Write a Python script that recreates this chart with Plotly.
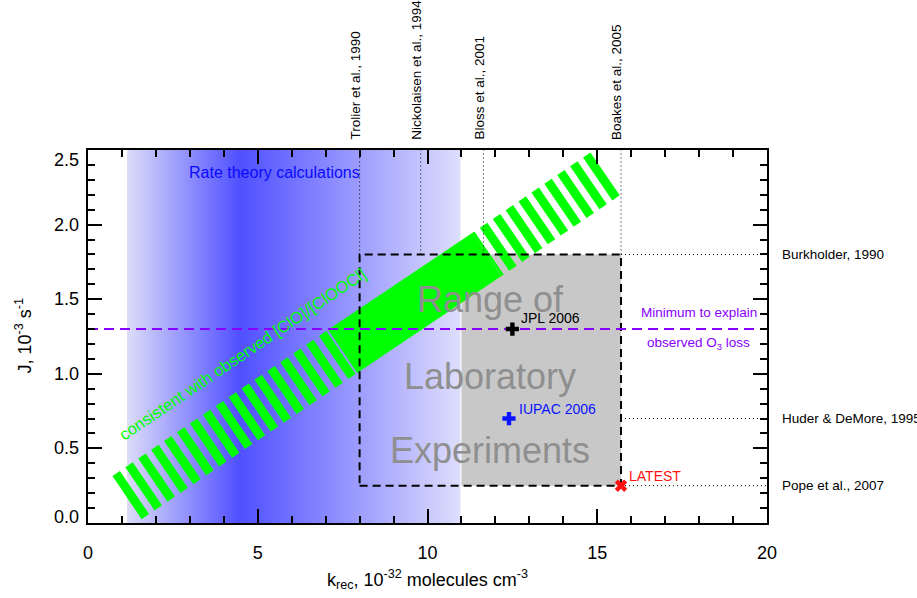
import plotly.graph_objects as go

# ---------------- data ----------------
blue_x_range = [1.15, 10.97]          # rate theory shaded range (k_rec)
blue_peak = 4.47                       # most likely rate-theory value
band_x = [1.15, 7.5, 11.75, 15.23]     # green band: start, solid start, solid end, end
band_y = [0.17, 1.15, 1.80, 2.34]
lab_x = [8.0, 15.7]                    # lab experiments k_rec range
lab_y = [0.25, 1.8]                    # lab experiments J range
gray_x = [11.0, 15.7]
j_min = 1.3                            # minimum J to explain ozone loss
top_refs = ["Trolier et al., 1990", "Nickolaisen et al., 1994", "Bloss et al., 2001", "Boakes et al., 2005"]
top_refs_x = [8.0, 9.8, 11.65, 15.7]
right_refs = ["Burkholder, 1990", "Huder & DeMore, 1995", "Pope et al., 2007"]
right_refs_y = [1.8, 0.7, 0.25]
pts_name = ["JPL 2006", "IUPAC 2006", "LATEST"]
pts_x = [12.5, 12.4, 15.7]
pts_y = [1.3, 0.7, 0.25]
pts_color = ["black", "#0a14ff", "#ff1010"]
pts_symbol = ["cross", "cross", "x"]
x_range = [0, 20]
y_range = [0, 2.5]
y_tick_vals = [0.0, 0.5, 1.0, 1.5, 2.0, 2.5]
y_tick_text = ["0.0", "0.5", "1.0", "1.5", "2.0", "2.5"]

FONT = "Liberation Sans, Arial, Helvetica, sans-serif"
GREEN = "#00ff00"
PURPLE = "#8800ff"

fig = go.Figure()

# blue gradient (rate theory)
fig.add_trace(go.Scatter(
    x=[blue_x_range[0], blue_x_range[1], blue_x_range[1], blue_x_range[0], blue_x_range[0]],
    y=[y_range[0], y_range[0], y_range[1], y_range[1], y_range[0]],
    mode="lines", line=dict(width=0), fill="toself",
    fillgradient=dict(type="horizontal", colorscale=[
        [0, "#dcdcfa"],
        [(blue_peak - blue_x_range[0]) / (blue_x_range[1] - blue_x_range[0]), "#5050ff"],
        [1, "#dedefc"]]),
    hoverinfo="skip", showlegend=False))

# gray lab box
fig.add_trace(go.Scatter(
    x=[gray_x[0], gray_x[1], gray_x[1], gray_x[0], gray_x[0]],
    y=[lab_y[0], lab_y[0], lab_y[1], lab_y[1], lab_y[0]],
    mode="lines", line=dict(width=0), fill="toself", fillcolor="#c8c8c8",
    hoverinfo="skip", showlegend=False))

# green band: striped lower, solid middle, striped upper
BW = 52
fig.add_trace(go.Scatter(x=band_x[0:2], y=band_y[0:2], mode="lines",
                         line=dict(color=GREEN, width=BW, dash="9px,6.6px"),
                         hoverinfo="skip", showlegend=False))
fig.add_trace(go.Scatter(x=[band_x[3], band_x[2]], y=[band_y[3], band_y[2]], mode="lines",
                         line=dict(color=GREEN, width=BW, dash="9px,6.6px"),
                         hoverinfo="skip", showlegend=False))
fig.add_trace(go.Scatter(x=band_x[1:3], y=band_y[1:3], mode="lines",
                         line=dict(color=GREEN, width=BW),
                         hoverinfo="skip", showlegend=False))

# dashed lab rectangle
fig.add_trace(go.Scatter(
    x=[lab_x[0], lab_x[1], lab_x[1], lab_x[0], lab_x[0]],
    y=[lab_y[0], lab_y[0], lab_y[1], lab_y[1], lab_y[0]],
    mode="lines", line=dict(color="black", width=2, dash="8px,5px"),
    hoverinfo="skip", showlegend=False))

# dotted reference lines
for xv in top_refs_x:
    fig.add_trace(go.Scatter(x=[xv, xv], y=[lab_y[1], y_range[1]], mode="lines",
                             line=dict(color="black", width=1, dash="1px,3px"),
                             hoverinfo="skip", showlegend=False))
for yv in right_refs_y:
    fig.add_trace(go.Scatter(x=[lab_x[1], x_range[1]], y=[yv, yv], mode="lines",
                             line=dict(color="black", width=1, dash="1px,3px"),
                             hoverinfo="skip", showlegend=False))

# purple minimum line
fig.add_trace(go.Scatter(x=x_range, y=[j_min, j_min], mode="lines",
                         line=dict(color=PURPLE, width=2, dash="10px,6px"),
                         hoverinfo="skip", showlegend=False))

# points
for n, xv, yv, c, s in zip(pts_name, pts_x, pts_y, pts_color, pts_symbol):
    fig.add_trace(go.Scatter(x=[xv], y=[yv], mode="markers",
                             marker=dict(symbol=s, size=11, color=c, line=dict(width=0)),
                             name=n, showlegend=False))

# invisible trace to carry the mirrored top/right axes
fig.add_trace(go.Scatter(x=[None], y=[None], xaxis="x2", yaxis="y2", mode="markers",
                         hoverinfo="skip", showlegend=False))

ann = []
# y tick labels (end labels nudged inward as in the original)
for i, (v, t) in enumerate(zip(y_tick_vals, y_tick_text)):
    shift = 0
    if i == 0:
        shift = 6
    elif i == len(y_tick_vals) - 1:
        shift = -10
    ann.append(dict(x=0, xref="paper", y=v, text=t, xanchor="right", yanchor="middle",
                    xshift=-7, yshift=shift, font=dict(size=18, color="black")))
# point labels
ann.append(dict(x=pts_x[0], y=pts_y[0], text="JPL 2006", xanchor="left", yanchor="middle",
                xshift=7, yshift=11, font=dict(size=14, color="black")))
ann.append(dict(x=pts_x[1], y=pts_y[1], text="IUPAC 2006", xanchor="left", yanchor="middle",
                xshift=8, yshift=10, font=dict(size=14, color=pts_color[1])))
ann.append(dict(x=pts_x[2], y=pts_y[2], text="LATEST", xanchor="left", yanchor="middle",
                xshift=6, yshift=10, font=dict(size=14, color=pts_color[2])))
# big gray text
for t, yv in zip(["Range of", "Laboratory", "Experiments"], [1.495, 0.98, 0.483]):
    ann.append(dict(x=11.85, y=yv, text=t, xanchor="center", yanchor="middle",
                    font=dict(size=36, color="#8f8f8f")))
# rate theory text
ann.append(dict(x=5.5, y=2.346, text="Rate theory calculations", xanchor="center", yanchor="middle",
                font=dict(size=16, color="#0a0aff")))
# band text
ann.append(dict(x=4.55, y=1.13, text="consistent with observed [ClO]/[ClOOCl]", textangle=-34,
                xanchor="center", yanchor="middle", font=dict(size=16.5, color=GREEN)))
# minimum text
ann.append(dict(x=19.76, y=1.41, text="Minimum to explain", xanchor="right", yanchor="middle",
                font=dict(size=13.5, color=PURPLE)))
ann.append(dict(x=19.55, y=1.206, text="observed O<sub>3</sub> loss", xanchor="right", yanchor="middle",
                font=dict(size=13.5, color=PURPLE)))
# top references
for t, xv in zip(top_refs, top_refs_x):
    ann.append(dict(x=xv, y=1, yref="paper", text=t, textangle=-90, xanchor="center", yanchor="bottom",
                    xshift=-5, yshift=8, font=dict(size=13.5, color="black")))
# right references
for t, yv in zip(right_refs, right_refs_y):
    ann.append(dict(x=1, xref="paper", y=yv, text=t, xanchor="left", yanchor="middle",
                    xshift=13, font=dict(size=13.5, color="black")))
# axis titles
ann.append(dict(x=0, xref="paper", y=0.5, yref="paper", text="J, 10<sup>-3</sup> s<sup>-1</sup>",
                textangle=-90, xanchor="center", yanchor="middle", xshift=-64,
                font=dict(size=18, color="black")))
ann.append(dict(x=10, y=0, yref="paper", text="k<sub>rec</sub>, 10<sup>-32</sup> molecules cm<sup>-3</sup>",
                xanchor="center", yanchor="middle", yshift=-56, font=dict(size=18, color="black")))

for a in ann:
    a.setdefault("xref", "x")
    a.setdefault("yref", "y")
    a["showarrow"] = False

axis_common = dict(showline=True, linecolor="black", linewidth=2,
                   ticks="inside", ticklen=14, tickwidth=2, tickcolor="black",
                   showgrid=False, zeroline=False,
                   tickfont=dict(size=18, color="black", family=FONT))
xminor = dict(dtick=1, ticks="inside", ticklen=7, tickwidth=2, tickcolor="black")
yminor = dict(dtick=0.1, ticks="inside", ticklen=7, tickwidth=2, tickcolor="black")

fig.update_layout(
    width=917, height=598,
    margin=dict(l=88, r=150, t=150, b=75),
    paper_bgcolor="white", plot_bgcolor="white",
    font=dict(family=FONT, color="black"),
    showlegend=False,
    annotations=ann,
    xaxis=dict(range=x_range, tick0=0, dtick=5, ticklabelstandoff=12, minor=xminor, **axis_common),
    yaxis=dict(range=y_range, tickvals=y_tick_vals, showticklabels=False,
               minor=yminor, **axis_common),
    xaxis2=dict(range=x_range, tick0=0, dtick=5, overlaying="x", side="top", anchor="y2",
                showticklabels=False, minor=xminor, **axis_common),
    yaxis2=dict(range=y_range, tickvals=y_tick_vals, overlaying="y", side="right", anchor="x2",
                showticklabels=False, minor=yminor, **axis_common),
)

fig.write_html("out.html", config={"displayModeBar": False},
               post_script="document.body.style.margin='0px';document.body.style.overflow='hidden';")
